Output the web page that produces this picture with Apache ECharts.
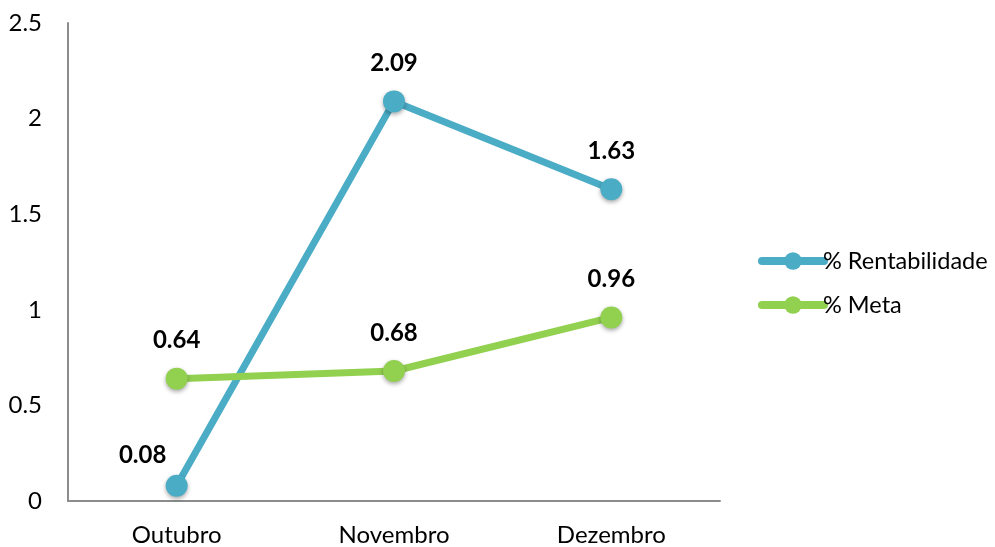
<!DOCTYPE html>
<html><head><meta charset="utf-8">
<script src="https://cdn.jsdelivr.net/npm/echarts@6/dist/echarts.min.js"></script>
<style>html,body{margin:0;padding:0;background:#fff}#c{width:995px;height:547px}</style>
</head><body><div id="c"></div>
<script>
var categories = ['Outubro', 'Novembro', 'Dezembro'];
var rentabilidade = [0.08, 2.09, 1.63];
var meta = [0.64, 0.68, 0.96];
var seriesNames = ['% Rentabilidade', '% Meta'];
var yTicks = [0, 0.5, 1, 1.5, 2, 2.5];

var chart = echarts.init(document.getElementById('c'));
var font = 'Lato, "Open Sans", sans-serif';
function mk(name, data, color, labelOffsets) {
  return {
    name: name, type: 'line', data: data.map(function (v, i) {
      return { value: v, label: { offset: labelOffsets[i] } };
    }),
    symbol: 'circle', symbolSize: 22,
    lineStyle: { color: color, width: 7 },
    itemStyle: { color: color, shadowBlur: 4, shadowColor: 'rgba(0,0,0,0.35)', shadowOffsetY: 2 },
    label: { show: true, position: 'top', distance: 15, color: '#000', fontWeight: 'bold', fontSize: 24, fontFamily: font,
      formatter: function (p) { return p.value.toFixed(2); } },
    emphasis: { disabled: true },
    animation: false
  };
}
chart.setOption({
  animation: false,
  grid: { left: 68, right: 275, top: 23, bottom: 45 },
  legend: {
    orient: 'vertical', left: 753, top: 244, itemWidth: 62, itemHeight: 22, itemGap: 20,
    data: seriesNames,
    lineStyle: { width: 8, cap: 'round' },
    itemStyle: { shadowBlur: 0, shadowOffsetY: 0, shadowColor: 'transparent' },
    textStyle: { fontSize: 23.5, fontFamily: font, color: '#000', padding: [0, 0, 0, -6] }
  },
  xAxis: {
    type: 'category', data: categories, boundaryGap: true,
    axisLine: { lineStyle: { color: '#8c8c8c', width: 2 } },
    axisTick: { show: false },
    axisLabel: { fontSize: 24, fontFamily: font, color: '#000', margin: 22 }
  },
  yAxis: {
    type: 'value', min: 0, max: 2.5, interval: 0.5,
    axisLine: { show: true, lineStyle: { color: '#8c8c8c', width: 2 } },
    axisTick: { show: false },
    splitLine: { show: false },
    axisLabel: { fontSize: 24, fontFamily: font, color: '#000', margin: 26,
      formatter: function (v) { return String(v); } }
  },
  series: [
    mk(seriesNames[0], rentabilidade, '#4BACC6', [[-34, 8], [0, 0], [0, 0]]),
    mk(seriesNames[1], meta, '#92D050', [[0, 0], [0, 0], [0, 0]])
  ]
});
</script></body></html>
